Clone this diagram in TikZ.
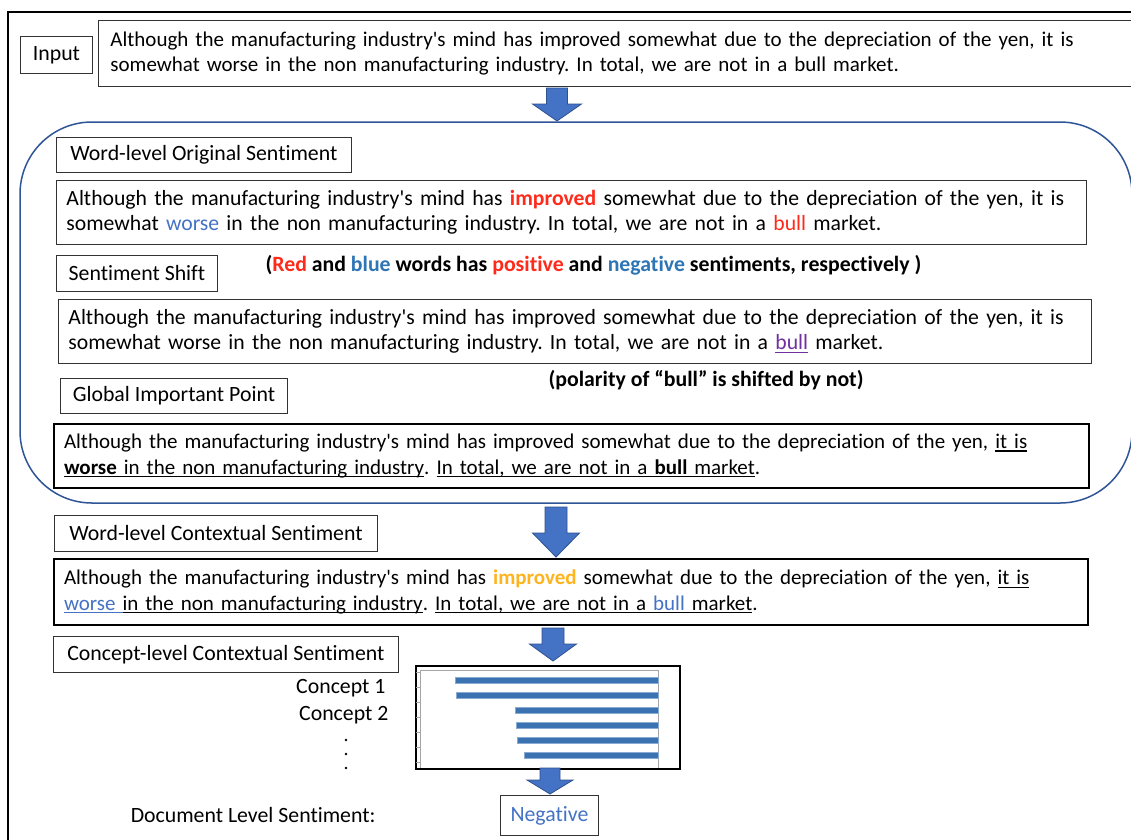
\documentclass[tikz,border=0pt]{standalone}
\usepackage{fontspec}
\setmainfont{Carlito}[Ligatures={TeXOff,CommonOff}]
\definecolor{regionblue}{HTML}{2F5597}
\definecolor{arrowfill}{HTML}{4472C4}
\definecolor{arrowedge}{HTML}{2F528F}
\definecolor{posred}{HTML}{FF2A1A}
\definecolor{negblue}{HTML}{2E75B6}
\definecolor{wordblue}{HTML}{4472C4}
\definecolor{shiftpurple}{HTML}{7030A0}
\definecolor{ctxorange}{HTML}{FFB41E}
\definecolor{barblue}{HTML}{3A72B2}
\definecolor{axisgrey}{HTML}{A6A6A6}
% underline at a fixed depth below the baseline
\newcommand\ulin[1]{\leavevmode\setbox0\hbox{#1}\rlap{\rule[-2.8pt]{\wd0}{1.1pt}}\box0}
\tikzset{
  lbl/.style={font=\fontsize{21.8}{26}\selectfont},
  txt/.style={font=\fontsize{21}{25.5}\selectfont\frenchspacing},
  bigtxt/.style={font=\fontsize{21.7}{25.5}\selectfont\frenchspacing},
  labelbox/.style={lbl, draw=black!80, line width=0.9pt, anchor=north west, inner sep=0pt},
  thinbox/.style={txt, draw=black!80, line width=0.9pt, anchor=north west, align=left, inner xsep=10pt, inner ysep=0pt},
  thickbox/.style={thinbox, draw=black, line width=2pt},
  blockarrow/.style={fill=arrowfill, draw=arrowedge, line width=0.8pt, line join=miter},
  bar/.style={fill=barblue, draw=barblue!60, line width=0.5pt},
}
% block arrow: centre x, top, head start, tip, half shaft, half head
\newcommand\downarrowshape[6]{%
  \draw[blockarrow] (#1-#5,#2) -- (#1+#5,#2) -- (#1+#5,#3) -- (#1+#6,#3) -- (#1,#4)
    -- (#1-#6,#3) -- (#1-#5,#3) -- cycle;}
\begin{document}
\begin{tikzpicture}[x=1pt,y=-1pt]
\useasboundingbox (0,0) rectangle (1131,839);
\fill[white] (0,0) rectangle (1131,839);

% outer frame
\draw[line width=2pt] (8,860) -- (8,12) -- (1150,12);

% input
\node[labelbox, minimum width=72pt, minimum height=37pt] (inlabel) at (20,36) {Input};
\node[thinbox, minimum height=66pt, text width=1040pt, inner xsep=12pt] (intext) at (98,20)
  {Although the manufacturing industry's mind has improved somewhat due to the depreciation of the yen, it is\\
   somewhat worse in the non manufacturing industry. In total, we are not in a bull market.};

\downarrowshape{557}{88}{104}{121}{10.5}{24.5}

% rounded region
\draw[regionblue, line width=1.5pt, rounded corners=72pt] (20,122) rectangle (1132,503);

% word-level original sentiment
\node[labelbox, minimum width=295pt, minimum height=35pt] (wos) at (56,137) {Word-level Original Sentiment};
\node[thinbox, bigtxt, minimum height=64pt, text width=1010pt] (wostext) at (56,180)
  {Although the manufacturing industry's mind has \textcolor{posred}{\textbf{improved}} somewhat due to the depreciation of the yen, it is\\
   somewhat \textcolor{wordblue}{worse} in the non manufacturing industry. In total, we are not in a \textcolor{posred}{bull} market.};

% sentiment shift
\node[labelbox, minimum width=161pt, minimum height=36pt] (shift) at (56,255) {Sentiment Shift};
\node[lbl, font=\fontsize{21.8}{26}\selectfont\bfseries, anchor=west] (legend) at (262,265)
  {(\textcolor{posred}{Red} and \textcolor{negblue}{blue} words has \textcolor{posred}{positive} and \textcolor{negblue}{negative} sentiments, respectively )};
\node[thinbox, bigtxt, minimum height=64pt, text width=1013pt] (shifttext) at (58,299)
  {Although the manufacturing industry's mind has improved somewhat due to the depreciation of the yen, it is\\
   somewhat worse in the non manufacturing industry. In total, we are not in a \textcolor{shiftpurple}{\ulin{bull}} market.};
\node[lbl, font=\fontsize{21.8}{26}\selectfont\bfseries, anchor=west] (shiftnote) at (545,380)
  {(polarity of “bull” is shifted by not)};

% global important point
\node[labelbox, minimum width=227pt, minimum height=35pt] (gip) at (60,378) {Global Important Point};
\node[thickbox, minimum height=64pt, text width=1015pt] (giptext) at (53,423)
  {Although the manufacturing industry's mind has improved somewhat due to the depreciation of the yen, \ulin{it is}\\
   \ulin{\textbf{worse} in the non manufacturing industry}. \ulin{In total, we are not in a \textbf{bull} market}.};

\downarrowshape{556}{507}{533}{557}{11}{23.5}

% word-level contextual sentiment
\node[labelbox, minimum width=323pt, minimum height=36pt] (wcs) at (54,515) {Word-level Contextual Sentiment};
\node[thickbox, minimum height=66pt, text width=1014pt] (wcstext) at (53,558)
  {Although the manufacturing industry's mind has \textcolor{ctxorange}{\textbf{improved}} somewhat due to the depreciation of the yen, \ulin{it is}\\
   \textcolor{wordblue}{\ulin{worse }}\ulin{in the non manufacturing industry}. \ulin{In total, we are not in a \textcolor{wordblue}{bull }market}.};

% concept-level contextual sentiment
\node[labelbox, minimum width=345pt, minimum height=36pt] (ccs) at (53,636) {Concept-level Contextual Sentiment};

\downarrowshape{553}{628}{644}{661}{11}{23.5}

% bar chart of concepts
\node[draw=black, line width=2pt, anchor=north west, minimum width=264pt, minimum height=103pt, inner sep=0pt] (chart) at (415,665) {};
\draw[axisgrey, line width=0.6pt] (420,670) -- (658,670) -- (658,768);
\draw[axisgrey, line width=0.6pt] (420,670) -- (420,768);
\foreach \ty in {672,687,702,717,732,747,762} \draw[axisgrey, line width=0.6pt] (416,\ty) -- (420,\ty);
\foreach \bx/\by in {455/680, 456/695, 515/710, 516/725, 517/740, 524/755}
  \draw[bar] (\bx,\by-3) rectangle (658,\by+3);

\node[lbl, anchor=east] (c1) at (389,688) {Concept 1};
\node[lbl, anchor=east] (c2) at (392,715) {Concept 2};
% vertical ellipsis under the concept names
\foreach \dy in {740,754,768}
  \fill (346,\dy) circle (1.4pt);

\downarrowshape{550}{768}{780}{794}{10}{23}

% document level result
\node[lbl, anchor=east] (doclabel) at (379,815) {Document Level Sentiment:};
\node[labelbox, minimum width=98pt, minimum height=40pt, text=wordblue] (docresult) at (500,795) {Negative};

\end{tikzpicture}
\end{document}
